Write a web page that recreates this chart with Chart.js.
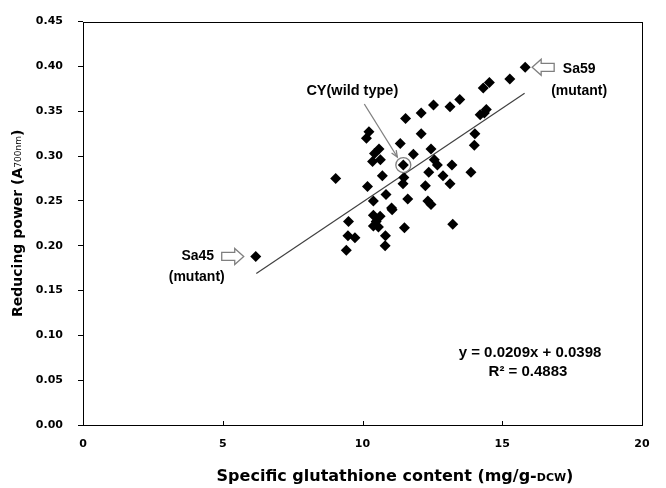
<!DOCTYPE html>
<html lang="en">
<head>
    <meta charset="UTF-8">
    <title>Reducing power vs specific glutathione content</title>
    <script src="https://cdn.jsdelivr.net/npm/chart.js"></script>
    <style>
        body {
            margin: 0;
            padding: 0;
            background-color: #fff;
        }

        .chart-container {
            width: 666px;
            height: 488px;
        }
    </style>
</head>
<body>
<div class="chart-container">
    <canvas id="gshChart"></canvas>
</div>

<script>
    // valores
    var glutathione = [6.18, 9.04, 9.42, 9.48, 9.73, 9.50, 10.14, 10.23, 10.18, 10.36,
        10.43, 10.59, 10.64, 10.39, 10.39, 10.63, 10.49, 10.39, 10.57, 10.71,
        10.84, 11.04, 11.06, 10.82, 10.81, 11.35, 11.54, 11.46, 11.48, 11.45,
        11.62, 11.50, 11.82, 12.10, 12.10, 12.25, 12.34, 12.45, 12.37, 12.45,
        12.54, 12.57, 12.68, 12.88, 13.13, 13.20, 13.13, 13.23, 13.48, 13.88,
        14.02, 14.00, 14.21, 14.36, 14.43, 14.32, 14.54, 15.27, 15.82];
    var reducingPower = [0.188, 0.275, 0.195, 0.211, 0.209, 0.227, 0.320, 0.327, 0.266, 0.294,
        0.303, 0.308, 0.296, 0.250, 0.234, 0.233, 0.227, 0.222, 0.221, 0.278,
        0.257, 0.242, 0.240, 0.211, 0.200, 0.314, 0.342, 0.290, 0.276, 0.269,
        0.252, 0.220, 0.302, 0.348, 0.325, 0.267, 0.250, 0.246, 0.282, 0.308,
        0.357, 0.296, 0.290, 0.278, 0.355, 0.290, 0.269, 0.224, 0.363, 0.282,
        0.325, 0.312, 0.346, 0.348, 0.352, 0.376, 0.382, 0.386, 0.399];

    // linea de tendencia (extremos)
    var trendX = [6.2, 15.8];
    var trendY = [0.169, 0.370];

    var xTicks = [0, 5, 10, 15, 20];
    var yTicks = [0, 0.05, 0.10, 0.15, 0.20, 0.25, 0.30, 0.35, 0.40, 0.45];

    var cyIndex = 27;   // CY (wild type)
    var sa45Index = 0;
    var sa59Index = 58;

    var scatterData = glutathione.map(function (x, i) {
        return {x: x, y: reducingPower[i]};
    });
    var trendData = trendX.map(function (x, i) {
        return {x: x, y: trendY[i]};
    });

    // texto con parte en letra pequena
    function drawMixed(ctx, parts, cx, cy) {
        var total = 0;
        parts.forEach(function (p) {
            ctx.font = p.font;
            p.w = ctx.measureText(p.text).width;
            total += p.w;
        });
        var x = cx - total / 2;
        parts.forEach(function (p) {
            ctx.font = p.font;
            ctx.fillText(p.text, x, cy + (p.dy || 0));
            x += p.w;
        });
    }

    function hollowArrow(ctx, x1, x2, y, dir) {
        // dir = 1 apunta a la derecha, -1 a la izquierda
        var len = Math.abs(x2 - x1), head = 9, body = 4, hh = 8;
        var tail = dir > 0 ? Math.min(x1, x2) : Math.max(x1, x2);
        var tip = tail + dir * len;
        var neck = tip - dir * head;
        ctx.beginPath();
        ctx.moveTo(tail, y - body);
        ctx.lineTo(neck, y - body);
        ctx.lineTo(neck, y - hh);
        ctx.lineTo(tip, y);
        ctx.lineTo(neck, y + hh);
        ctx.lineTo(neck, y + body);
        ctx.lineTo(tail, y + body);
        ctx.closePath();
        ctx.fillStyle = '#fff';
        ctx.fill();
        ctx.strokeStyle = '#7f7f7f';
        ctx.lineWidth = 1.3;
        ctx.stroke();
    }

    var extrasPlugin = {
        id: 'extras',
        afterDraw: function (chart) {
            var ctx = chart.ctx;
            var a = chart.chartArea;
            var xs = chart.scales.x, ys = chart.scales.y;
            ctx.save();

            // marco del area
            ctx.strokeStyle = '#000';
            ctx.lineWidth = 1;
            ctx.strokeRect(Math.round(a.left) + 0.5, Math.round(a.top) + 0.5,
                Math.round(a.right - a.left), Math.round(a.bottom - a.top));

            // marcas del eje x hacia dentro
            xTicks.forEach(function (v) {
                var px = Math.round(xs.getPixelForValue(v)) + 0.5;
                ctx.beginPath();
                ctx.moveTo(px, a.bottom);
                ctx.lineTo(px, a.bottom - 4);
                ctx.stroke();
            });

            // titulos de ejes
            ctx.fillStyle = '#000';
            ctx.textBaseline = 'middle';
            ctx.textAlign = 'left';
            drawMixed(ctx, [
                {text: 'Specific glutathione content (mg/g-', font: 'bold 16px "DejaVu Sans"'},
                {text: 'DCW', font: 'bold 11px "DejaVu Sans"', dy: 1},
                {text: ')', font: 'bold 16px "DejaVu Sans"'}
            ], 395, 477);

            ctx.save();
            ctx.translate(18, (a.top + a.bottom) / 2);
            ctx.rotate(-Math.PI / 2);
            drawMixed(ctx, [
                {text: 'Reducing power (A', font: 'bold 14px "DejaVu Sans"'},
                {text: '700nm', font: '9px "DejaVu Sans"', dy: 1},
                {text: ')', font: 'bold 14px "DejaVu Sans"'}
            ], 0, 0);
            ctx.restore();

            // CY (wild type)
            var cx = xs.getPixelForValue(glutathione[cyIndex]);
            var cy = ys.getPixelForValue(reducingPower[cyIndex]);
            ctx.strokeStyle = '#808080';
            ctx.lineWidth = 1.3;
            ctx.beginPath();
            ctx.arc(cx, cy, 7.5, 0, Math.PI * 2);
            ctx.stroke();

            var sx = cx - 39, sy = cy - 61, ex = cx - 6, ey = cy - 8;
            ctx.beginPath();
            ctx.moveTo(sx, sy);
            ctx.lineTo(ex, ey);
            ctx.stroke();
            var ang = Math.atan2(ey - sy, ex - sx);
            ctx.beginPath();
            ctx.moveTo(ex - 7 * Math.cos(ang - 0.4), ey - 7 * Math.sin(ang - 0.4));
            ctx.lineTo(ex, ey);
            ctx.lineTo(ex - 7 * Math.cos(ang + 0.4), ey - 7 * Math.sin(ang + 0.4));
            ctx.stroke();

            ctx.fillStyle = '#000';
            ctx.textAlign = 'center';
            ctx.font = 'bold 14.5px "Liberation Sans"';
            ctx.fillText('CY(wild type)', cx - 51, cy - 74);

            // Sa45
            var ax = xs.getPixelForValue(glutathione[sa45Index]);
            var ay = ys.getPixelForValue(reducingPower[sa45Index]);
            hollowArrow(ctx, ax - 34, ax - 12, ay, 1);
            ctx.fillStyle = '#000';
            ctx.font = 'bold 14px "Liberation Sans"';
            ctx.fillText('Sa45', ax - 58, ay);
            ctx.fillText('(mutant)', ax - 59, ay + 21);

            // Sa59
            var bx = xs.getPixelForValue(glutathione[sa59Index]);
            var by = ys.getPixelForValue(reducingPower[sa59Index]);
            hollowArrow(ctx, bx + 29, bx + 7, by, -1);
            ctx.fillStyle = '#000';
            ctx.fillText('Sa59', bx + 54, by + 2);
            ctx.fillText('(mutant)', bx + 54, by + 24);

            // ecuacion
            ctx.font = 'bold 15px "Liberation Sans"';
            ctx.fillText('y = 0.0209x + 0.0398', 530, 353);
            ctx.fillText('R\u00b2 = 0.4883', 528, 372);

            ctx.restore();
        }
    };

    var ctx = document.getElementById('gshChart').getContext('2d');
    var gshChart = new Chart(ctx, {
        type: 'scatter',
        data: {
            datasets: [{
                label: 'Reducing power',
                data: scatterData,
                pointStyle: 'rectRot',
                pointRadius: 5.5,
                pointHoverRadius: 5.5,
                backgroundColor: '#000',
                borderColor: '#000',
                borderWidth: 0
            }, {
                type: 'line',
                label: 'Trend',
                data: trendData,
                borderColor: '#404040',
                borderWidth: 1.2,
                pointRadius: 0,
                fill: false
            }]
        },
        plugins: [extrasPlugin],
        options: {
            responsive: true,
            maintainAspectRatio: false,
            animation: false,
            layout: {
                padding: {top: 16, right: 24, left: 0, bottom: 0}
            },
            plugins: {
                legend: {display: false},
                tooltip: {enabled: false}
            },
            scales: {
                x: {
                    type: 'linear',
                    min: 0,
                    max: 20,
                    afterBuildTicks: function (scale) {
                        scale.ticks = xTicks.map(function (v) { return {value: v}; });
                    },
                    afterFit: function (scale) {
                        scale.height = 63;
                    },
                    border: {display: false},
                    grid: {display: false, drawTicks: false},
                    ticks: {
                        padding: 13,
                        color: '#000',
                        maxRotation: 0,
                        font: {family: 'DejaVu Sans', size: 11, weight: 'bold'}
                    }
                },
                y: {
                    min: 0,
                    max: 0.45,
                    afterBuildTicks: function (scale) {
                        scale.ticks = yTicks.map(function (v) { return {value: v}; });
                    },
                    afterFit: function (scale) {
                        scale.width = 83;
                    },
                    border: {display: false},
                    grid: {
                        drawOnChartArea: false,
                        drawTicks: true,
                        tickLength: 5,
                        color: '#000'
                    },
                    ticks: {
                        padding: 15,
                        color: '#000',
                        font: {family: 'DejaVu Sans', size: 11, weight: 'bold'},
                        callback: function (v) { return v.toFixed(2); }
                    }
                }
            }
        }
    });
</script>
</body>
</html>
